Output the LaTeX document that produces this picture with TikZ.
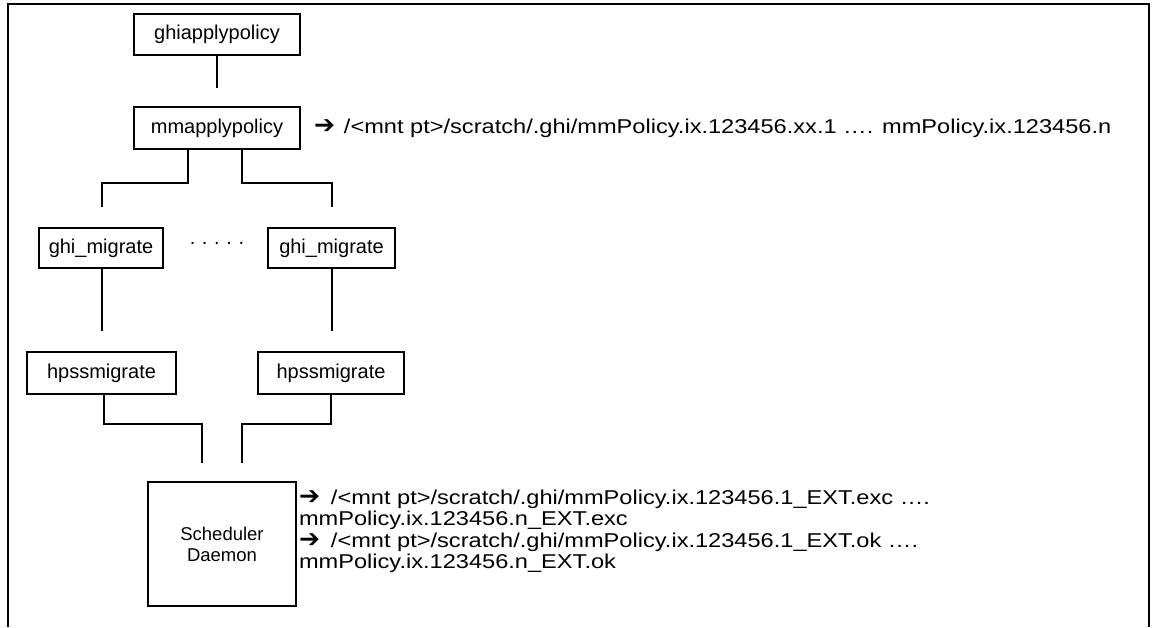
\documentclass[tikz,border=0pt]{standalone}
\usepackage{fontspec}
\setmainfont{Liberation Sans}
\newfontfamily\widefont[FakeStretch=1.18]{Liberation Sans}
\newfontfamily\arrowfont{DejaVu Sans}
\begin{document}
\begin{tikzpicture}[x=1pt,y=-1pt,
  line width=2pt,
  procbox/.style={draw, rectangle, inner sep=0pt, font=\fontsize{20}{24}\selectfont},
  filetext/.style={inner sep=0pt, align=left, font=\widefont\fontsize{20}{21}\selectfont},
  link/.style={draw, line width=2pt}]
\useasboundingbox (0,0) rectangle (1158,627);
\newcommand{\goesto}{{\arrowfont\fontsize{25}{20}\selectfont ➔}}

% open frame round the diagram
\draw (8,627) -- (8,4) -- (1149,4) -- (1149,627);

% process boxes
\node[procbox, minimum width=166, minimum height=41] (ghi) at (217,34.5) {ghiapplypolicy};
\node[procbox, minimum width=166, minimum height=42] (mm) at (217,128) {mmapplypolicy};
\node[procbox, minimum width=124, minimum height=40] (gmA) at (101,248) {ghi\_migrate};
\node[procbox, minimum width=127, minimum height=40] (gmB) at (331.5,248) {ghi\_migrate};
\node[procbox, minimum width=149, minimum height=42] (hpA) at (101.5,373) {hpssmigrate};
\node[procbox, minimum width=146, minimum height=42] (hpB) at (331,373) {hpssmigrate};
\node[procbox, minimum width=148, minimum height=124, align=center,
      font=\fontsize{18.5}{21}\selectfont] (sd) at (222,544) {Scheduler\\Daemon};

\node[font=\fontsize{20}{24}\selectfont, inner sep=0pt] (dots) at (217,243) {.\,\,.\,\,.\,\,.\,\,.};

% free ends of the connectors
\coordinate (ghiEnd) at (217,88);
\coordinate (mmA) at (102,207);
\coordinate (mmB) at (332,207);
\coordinate (gmAEnd) at (102,331);
\coordinate (gmBEnd) at (332,331);
\coordinate (hpAEnd) at (202,463);
\coordinate (hpBEnd) at (242,463);

% connectors
\draw[link] (ghi.south) -- (ghiEnd);
\draw[link] ([xshift=-29pt]mm.south) -- ++(0,33) -| (mmA);
\draw[link] ([xshift=25pt]mm.south) -- ++(0,33) -| (mmB);
\draw[link] (gmA.south -| gmAEnd) -- (gmAEnd);
\draw[link] (gmB.south -| gmBEnd) -- (gmBEnd);
\draw[link] ([xshift=2.5pt]hpA.south) -- ++(0,29) -| (hpAEnd);
\draw[link] (hpB.south) -- ++(0,29) -| (hpBEnd);

% files written by each stage
\node[filetext, anchor=west] (mmfiles) at (313,128)
  {\goesto\hspace{9pt}/<mnt pt>/scratch/.ghi/mmPolicy.ix.123456.xx.1 …. mmPolicy.ix.123456.n};
\node[filetext, anchor=north west] (excfiles) at (298,489)
  {\goesto\hspace{11pt}/<mnt pt>/scratch/.ghi/mmPolicy.ix.123456.1\_EXT.exc ….\\
   mmPolicy.ix.123456.n\_EXT.exc};
\node[filetext, anchor=north west] (okfiles) at (298,532)
  {\goesto\hspace{11pt}/<mnt pt>/scratch/.ghi/mmPolicy.ix.123456.1\_EXT.ok ….\\
   mmPolicy.ix.123456.n\_EXT.ok};
\end{tikzpicture}
\end{document}
